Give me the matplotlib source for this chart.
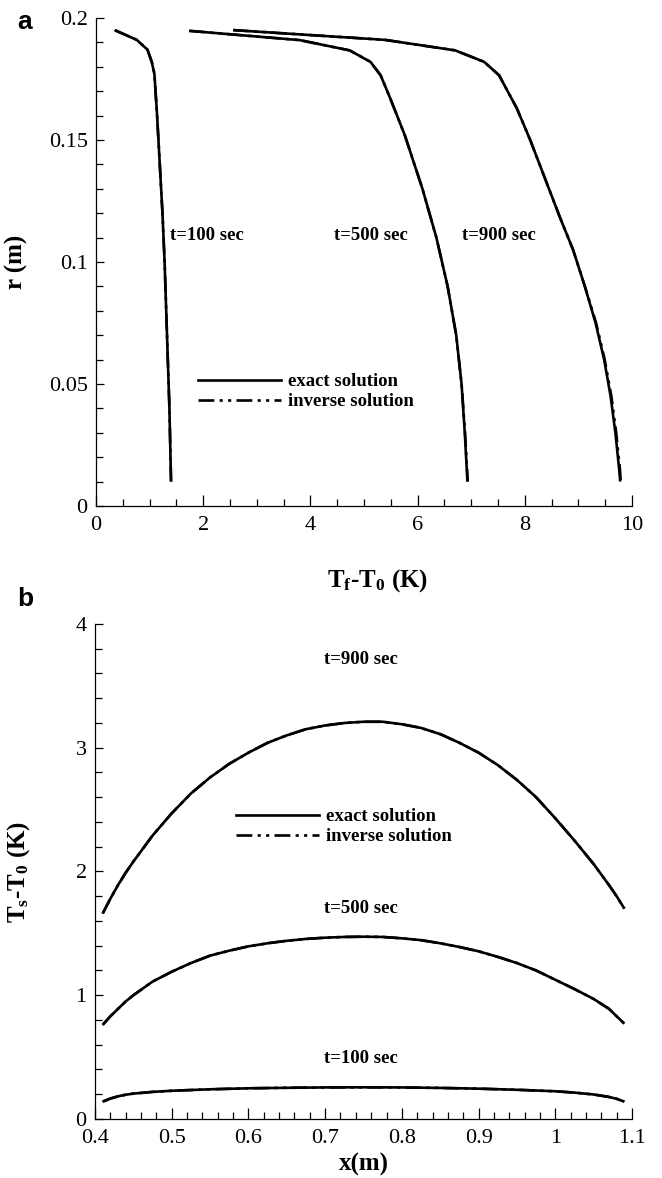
import matplotlib
matplotlib.use('Agg')
import matplotlib.pyplot as plt
from matplotlib.lines import Line2D

rcParams = {'font.size': 16, 'font.family': 'serif',
            'font.serif': ['Liberation Serif', 'DejaVu Serif'],
            'mathtext.fontset': 'custom',
            'mathtext.rm': 'Liberation Serif:bold',
            'mathtext.it': 'Liberation Serif:bold',
            'mathtext.bf': 'Liberation Serif:bold',
            'mathtext.default': 'bf',
            'axes.linewidth': 0.9}
plt.rcParams.update(rcParams)

# ---- panel a : fluid temperature vs radius ----
a_r100 = [0.195, 0.191, 0.187, 0.182, 0.177, 0.160, 0.140, 0.120, 0.100, 0.080, 0.060, 0.040, 0.020, 0.010]
a_T100 = [0.35, 0.76, 0.96, 1.04, 1.09, 1.14, 1.19, 1.24, 1.28, 1.31, 1.34, 1.37, 1.39, 1.40]
a_r500 = [0.1947, 0.1909, 0.1867, 0.182, 0.1765, 0.167, 0.152, 0.130, 0.110, 0.090, 0.070, 0.050, 0.030, 0.010]
a_T500 = [1.74, 3.80, 4.73, 5.12, 5.31, 5.49, 5.76, 6.09, 6.35, 6.56, 6.72, 6.82, 6.88, 6.93]
a_r900 = [0.195, 0.191, 0.1867, 0.182, 0.1765, 0.163, 0.150, 0.134, 0.118, 0.105, 0.090,
          0.075, 0.060, 0.045, 0.030, 0.015, 0.010]
a_T900 = [2.56, 5.39, 6.70, 7.24, 7.52, 7.85, 8.10, 8.38, 8.66, 8.90, 9.12,
          9.32, 9.48, 9.60, 9.69, 9.76, 9.78]
# inverse solution (almost on top of the exact one)
a_T100_inv = [0.35, 0.76, 0.96, 1.04, 1.09, 1.14, 1.19, 1.24, 1.28, 1.31, 1.34, 1.37, 1.39, 1.40]
a_T500_inv = [1.74, 3.80, 4.73, 5.12, 5.31, 5.49, 5.76, 6.09, 6.35, 6.56, 6.72, 6.82, 6.885, 6.935]
a_T900_inv = [2.56, 5.39, 6.70, 7.24, 7.52, 7.85, 8.10, 8.38, 8.66, 8.90, 9.12,
              9.33, 9.49, 9.615, 9.705, 9.775, 9.79]

# ---- panel b : solid temperature along x ----
b_x = [0.41, 0.42, 0.43, 0.44, 0.45, 0.475, 0.50, 0.525, 0.55, 0.575, 0.60, 0.625, 0.65,
       0.675, 0.70, 0.725, 0.75, 0.775, 0.80, 0.825, 0.85, 0.875, 0.90, 0.925, 0.95,
       0.975, 1.00, 1.025, 1.05, 1.07, 1.08, 1.09]
b_T900 = [1.66, 1.78, 1.89, 1.99, 2.08, 2.29, 2.47, 2.63, 2.76, 2.87, 2.96, 3.04, 3.10,
          3.15, 3.18, 3.20, 3.21, 3.21, 3.19, 3.16, 3.11, 3.04, 2.96, 2.86, 2.74,
          2.60, 2.43, 2.25, 2.06, 1.89, 1.80, 1.70]
b_T500 = [0.76, 0.83, 0.89, 0.95, 1.00, 1.11, 1.19, 1.26, 1.32, 1.36, 1.395, 1.42, 1.44,
          1.455, 1.465, 1.471, 1.473, 1.471, 1.46, 1.445, 1.42, 1.39, 1.355, 1.31, 1.26,
          1.20, 1.125, 1.05, 0.97, 0.89, 0.83, 0.77]
b_x100 = [0.41, 0.42, 0.43, 0.44, 0.45, 0.475, 0.50, 0.55, 0.60, 0.65, 0.70, 0.75, 0.80,
          0.85, 0.90, 0.95, 1.00, 1.025, 1.05, 1.07, 1.08, 1.09]
b_T100 = [0.14, 0.165, 0.183, 0.196, 0.205, 0.219, 0.228, 0.240, 0.248, 0.252, 0.255, 0.256, 0.255,
          0.251, 0.245, 0.236, 0.224, 0.213, 0.198, 0.178, 0.163, 0.14]
b_T100_inv = list(b_T100)
b_T500_inv = list(b_T500)
b_T900_inv = list(b_T900)

labels_time = ['t=100 sec', 't=500 sec', 't=900 sec']

a_xticks = [0, 2, 4, 6, 8, 10]
a_yticks = [0, 0.05, 0.1, 0.15, 0.2]
a_yticklabels = ['0', '0.05', '0.1', '0.15', '0.2']
b_xticks = [0.4, 0.5, 0.6, 0.7, 0.8, 0.9, 1.0, 1.1]
b_xticklabels = ['0.4', '0.5', '0.6', '0.7', '0.8', '0.9', '1', '1.1']
b_yticks = [0, 1, 2, 3, 4]

lw = 1.9
dashdotdot = (0, (6, 2, 1.2, 2, 1.2, 2))
txt = dict(fontsize=13.5, fontweight='bold')

fig = plt.figure(figsize=(6.62, 11.78), dpi=100)
ax1 = fig.add_axes([0.145, 0.5705, 0.8097, 0.4143])
ax2 = fig.add_axes([0.1435, 0.0501, 0.8112, 0.4202])

for ax in (ax1, ax2):
	ax.spines['top'].set_visible(False)
	ax.spines['right'].set_visible(False)
	ax.tick_params(which='both', direction='in', top=False, right=False, width=0.9)
	ax.tick_params(axis='x', which='major', length=8, pad=7)
	ax.tick_params(axis='x', which='minor', length=4.7)
	ax.tick_params(axis='y', which='major', length=5.5, pad=6)
	ax.tick_params(axis='y', which='minor', length=5)

# panel a
for T, Ti, r in [(a_T100, a_T100_inv, a_r100), (a_T500, a_T500_inv, a_r500), (a_T900, a_T900_inv, a_r900)]:
	ax1.plot(Ti, r, color='black', lw=lw, linestyle=dashdotdot)
	ax1.plot(T, r, color='black', lw=lw, solid_capstyle='butt', solid_joinstyle='round')
ax1.set_xlim(0, 10)
ax1.set_ylim(0, 0.2)
ax1.set_xticks(a_xticks)
ax1.set_xticks([i * 0.5 for i in range(21)], minor=True)
ax1.set_yticks(a_yticks)
ax1.set_yticklabels(a_yticklabels)
ax1.set_yticks([i * 0.01 for i in range(21)], minor=True)
ax1.text(1.38, 0.111, labels_time[0], ha='left', va='center', **txt)
ax1.text(4.44, 0.111, labels_time[1], ha='left', va='center', **txt)
ax1.text(6.83, 0.111, labels_time[2], ha='left', va='center', **txt)
ax1.set_xlabel(r'$T_f$-$T_0$ (K)', fontsize=18, fontweight='bold')
ax1.set_ylabel('r (m)', fontsize=18, fontweight='bold')
ax1.xaxis.set_label_coords(0.526, -0.125)
ax1.yaxis.set_label_coords(-0.127, 0.5)

handles = [Line2D([], [], color='black', lw=lw),
           Line2D([], [], color='black', lw=lw, linestyle=dashdotdot)]
leg_names = ['exact solution', 'inverse solution']
ax1.legend(handles, leg_names, loc='upper left', bbox_to_anchor=(0.191, 0.272),
           frameon=False, handlelength=4.4, handletextpad=0.4, labelspacing=0.15,
           borderpad=0, borderaxespad=0, prop={'size': 13.5, 'weight': 'bold'})

# panel b
for xs, Te, Ti in [(b_x100, b_T100, b_T100_inv), (b_x, b_T500, b_T500_inv), (b_x, b_T900, b_T900_inv)]:
	ax2.plot(xs, Ti, color='black', lw=lw, linestyle=dashdotdot)
	ax2.plot(xs, Te, color='black', lw=lw, solid_capstyle='butt', solid_joinstyle='round')
ax2.set_xlim(0.4, 1.1)
ax2.set_ylim(0, 4)
ax2.set_xticks(b_xticks)
ax2.set_xticklabels(b_xticklabels)
ax2.set_xticks([0.4 + i * 0.02 for i in range(36)], minor=True)
ax2.set_yticks(b_yticks)
ax2.set_yticks([i * 0.2 for i in range(21)], minor=True)
ax2.text(0.746, 0.49, labels_time[0], ha='center', va='center', **txt)
ax2.text(0.746, 1.70, labels_time[1], ha='center', va='center', **txt)
ax2.text(0.746, 3.71, labels_time[2], ha='center', va='center', **txt)
ax2.set_xlabel('x(m)', fontsize=18, fontweight='bold')
ax2.set_ylabel(r'$T_s$-$T_0$ (K)', fontsize=18, fontweight='bold')
ax2.xaxis.set_label_coords(0.5, -0.068)
ax2.yaxis.set_label_coords(-0.117, 0.5)
ax2.legend(handles, leg_names, loc='upper left', bbox_to_anchor=(0.263, 0.628),
           frameon=False, handlelength=4.4, handletextpad=0.4, labelspacing=0.15,
           borderpad=0, borderaxespad=0, prop={'size': 13.5, 'weight': 'bold'})

fig.text(17 / 662, 1 - 22 / 1178, 'a', fontsize=19, fontweight='bold',
         family='Liberation Sans', ha='left', va='center')
fig.text(17 / 662, 1 - 599 / 1178, 'b', fontsize=19, fontweight='bold',
         family='Liberation Sans', ha='left', va='center')

fig.savefig('out.png', dpi=100)
